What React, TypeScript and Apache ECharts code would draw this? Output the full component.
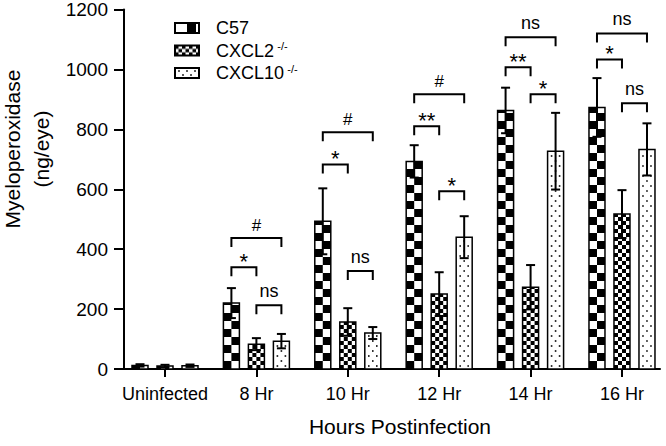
import React, { useEffect, useRef } from "react";
import * as echarts from "echarts";

const categories = ["Uninfected", "8 Hr", "10 Hr", "12 Hr", "14 Hr", "16 Hr"];
const seriesNames = ["C57", "CXCL2", "CXCL10"];
const c57 = [12, 220, 493, 693, 863, 873];
const c57Err = [4, 50, 110, 54, 76, 98];
const cxcl2 = [10, 83, 157, 250, 273, 517];
const cxcl2Err = [4, 20, 46, 73, 74, 80];
const cxcl10 = [11, 93, 120, 440, 727, 733];
const cxcl10Err = [4, 24, 20, 70, 128, 87];
const yTicks = [0, 200, 400, 600, 800, 1000, 1200];

// significance brackets: [category index, from series, to series, height, label]
const sigCat = [1, 1, 1, 2, 2, 2, 3, 3, 3, 4, 4, 4, 5, 5, 5];
const sigFrom = [0, 0, 1, 0, 0, 1, 0, 0, 1, 0, 0, 1, 0, 0, 1];
const sigTo = [2, 1, 2, 2, 1, 2, 2, 1, 2, 2, 1, 2, 2, 1, 2];
const sigY = [437, 340, 213, 790, 683, 327, 917, 810, 593, 1107, 1007, 917, 1120, 1033, 887];
const sigLabel = ["#", "*", "ns", "#", "*", "ns", "#", "**", "*", "ns", "**", "*", "ns", "*", "ns"];

const FONT = "'Liberation Sans', Arial, sans-serif";
const OFFSETS = [-25, 0, 25];
const BAR_W = 16;

function makeIcon(kind: string): string {
  const c = document.createElement("canvas");
  c.width = 26;
  c.height = 12;
  const g = c.getContext("2d")!;
  g.fillStyle = "#fff";
  g.fillRect(0, 0, 26, 12);
  g.fillStyle = "#000";
  if (kind === "C57") {
    g.fillRect(13, 1, 9, 10);
  } else if (kind === "CXCL2") {
    for (let r = 0; r < 3; r++)
      for (let col = 0; col < 7; col++)
        if ((r + col) % 2 === 0) g.fillRect(1 + col * 3.5, 1 + r * 3.4, 3.5, 3.4);
  } else {
    const pts = [[5, 4], [13, 4], [21, 4], [9, 8], [17, 8]];
    pts.forEach(([x, y]) => g.fillRect(x - 0.8, y - 0.8, 1.6, 1.6));
  }
  g.strokeStyle = "#000";
  g.lineWidth = 2;
  g.strokeRect(1, 1, 24, 10);
  return c.toDataURL();
}

function barRenderer(s: number) {
  return (params: any, api: any) => {
    const i = api.value(0);
    const v = api.value(1);
    const e = api.value(2);
    const b = api.coord([i, 0]);
    const t = api.coord([i, v]);
    const xc = b[0] + OFFSETS[s];
    const L = xc - BAR_W / 2;
    const y0 = b[1];
    const y1 = t[1];
    const H = y0 - y1;
    const children: any[] = [];
    children.push({ type: "rect", shape: { x: L, y: y1, width: BAR_W, height: H }, style: { fill: "#fff" } });
    if (s === 0 || s === 1) {
      const c = s === 0 ? 8 : 4;
      for (let r = 0; r * c < H; r++) {
        const yb = y0 - r * c;
        const h = Math.min(c, H - r * c);
        for (let col = 0; col * c < BAR_W; col++) {
          if ((r + col) % 2 === 0) {
            children.push({
              type: "rect",
              shape: { x: L + col * c, y: yb - h, width: Math.min(c, BAR_W - col * c), height: h },
              style: { fill: "#000" },
            });
          }
        }
      }
    } else {
      for (let r = 0; ; r++) {
        const y = y0 - 3 - r * 5;
        if (y < y1 + 2) break;
        const xs = r % 2 ? [L + 8] : [L + 4, L + 12];
        xs.forEach((x) =>
          children.push({ type: "rect", shape: { x: x - 0.8, y: y - 0.8, width: 1.6, height: 1.6 }, style: { fill: "#000" } })
        );
      }
    }
    children.push({
      type: "rect",
      shape: { x: L, y: y1, width: BAR_W, height: H },
      style: { fill: "none", stroke: "#000", lineWidth: 1.5 },
    });
    const et = api.coord([i, v + e])[1];
    const eb = api.coord([i, Math.max(v - e, 0)])[1];
    const ls = { stroke: "#000", lineWidth: 2 };
    children.push({ type: "line", shape: { x1: xc, y1: et, x2: xc, y2: eb }, style: ls });
    children.push({ type: "line", shape: { x1: xc - 4.5, y1: et, x2: xc + 4.5, y2: et }, style: ls });
    children.push({ type: "line", shape: { x1: xc - 4.5, y1: eb, x2: xc + 4.5, y2: eb }, style: ls });
    return { type: "group", children };
  };
}

function sigRenderer(params: any, api: any) {
  const k = params.dataIndex;
  const p = api.coord([api.value(0), api.value(1)]);
  const x1 = p[0] + OFFSETS[sigFrom[k]];
  const x2 = p[0] + OFFSETS[sigTo[k]];
  const y = p[1];
  const label = sigLabel[k];
  const isStar = label.indexOf("*") >= 0;
  const fs = isStar ? 22 : label === "#" ? 17 : 18;
  const ty = isStar ? y - 6 : label === "#" ? y - 13 : y - 14.5;
  return {
    type: "group",
    children: [
      {
        type: "polyline",
        shape: { points: [[x1, y + 9], [x1, y], [x2, y], [x2, y + 9]] },
        style: { stroke: "#000", lineWidth: 2, fill: "none" },
      },
      {
        type: "text",
        style: {
          text: label,
          x: (x1 + x2) / 2,
          y: ty,
          align: "center",
          verticalAlign: "middle",
          fontSize: fs,
          fontFamily: FONT,
          fill: "#000",
        },
      },
    ],
  };
}

export default function App() {
  const ref = useRef<HTMLDivElement>(null);
  useEffect(() => {
    document.body.style.margin = "0";
    if (!ref.current) return;
    const chart = echarts.init(ref.current, null, { renderer: "svg" });
    const values = [c57, cxcl2, cxcl10];
    const errs = [c57Err, cxcl2Err, cxcl10Err];
    const barSeries = seriesNames.map((name, s) => ({
      type: "custom",
      name,
      renderItem: barRenderer(s),
      itemStyle: { color: "#000" },
      encode: { x: 0, y: 1 },
      data: categories.map((_, i) => [i, values[s][i], errs[s][i]]),
      z: 2,
    }));
    const option: any = {
      animation: false,
      backgroundColor: "#fff",
      grid: { left: 124, right: 6, top: 9, bottom: 77 },
      legend: {
        orient: "vertical",
        left: 169,
        top: 14,
        itemWidth: 26,
        itemHeight: 12,
        itemGap: 3.5,
        data: seriesNames.map((n) => ({ name: n, icon: "image://" + makeIcon(n) })),
        formatter: (name: string) => (name === "C57" ? "{n|C57}" : `{n|${name}} {s|-/-}`),
        textStyle: {
          padding: [0, 0, 0, 11],
          rich: {
            n: { fontSize: 18, fontFamily: FONT, color: "#000", lineHeight: 20 },
            s: { fontSize: 11, fontFamily: FONT, color: "#000", lineHeight: 12, verticalAlign: "top" },
          },
        },
        selectedMode: false,
      },
      xAxis: {
        type: "value",
        min: -0.4486,
        max: 5.416,
        name: "Hours Postinfection",
        nameLocation: "middle",
        nameGap: 47,
        nameTextStyle: { fontSize: 21, fontFamily: FONT, color: "#000", padding: [0, 0, 0, 16] },
        axisLine: { show: true, onZero: false, lineStyle: { color: "#000", width: 2 } },
        axisTick: { show: true, length: 8, lineStyle: { color: "#000", width: 2 }, customValues: categories.map((_, i) => i) },
        axisLabel: {
          customValues: categories.map((_, i) => i),
          formatter: (v: number) => categories[Math.round(v)] ?? "",
          fontSize: 18,
          fontFamily: FONT,
          color: "#000",
          margin: 16,
        },
        splitLine: { show: false },
      },
      yAxis: {
        type: "value",
        min: yTicks[0],
        max: yTicks[yTicks.length - 1],
        interval: 200,
        axisLine: { show: true, onZero: false, lineStyle: { color: "#000", width: 2 } },
        axisTick: { show: true, length: 10, lineStyle: { color: "#000", width: 2 } },
        axisLabel: {
          fontSize: 19,
          fontFamily: FONT,
          color: "#000",
          margin: 16,
          formatter: (v: number) => String(v),
        },
        splitLine: { show: false },
      },
      graphic: [
        {
          type: "text",
          x: 27,
          y: 149,
          rotation: Math.PI / 2,
          style: {
            text: "Myeloperoxidase\n(ng/eye)",
            align: "center",
            verticalAlign: "middle",
            fontSize: 21,
            lineHeight: 29,
            fontFamily: FONT,
            fill: "#000",
          },
        },
      ],
      series: [
        ...barSeries,
        {
          type: "custom",
          renderItem: sigRenderer,
          encode: { x: 0, y: 1 },
          data: sigCat.map((c, k) => [c, sigY[k]]),
          z: 3,
        },
      ],
    };
    chart.setOption(option);
    return () => chart.dispose();
  }, []);
  return <div ref={ref} style={{ width: 666, height: 446 }} />;
}
